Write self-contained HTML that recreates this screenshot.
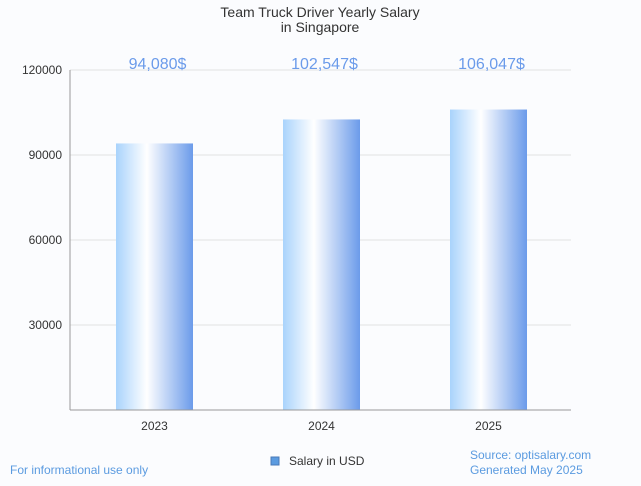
<!DOCTYPE html>
<html><head><meta charset="utf-8"><style>
body{margin:0;background:#fbfcfe;font-family:"Liberation Sans",sans-serif;}
svg text{font-family:"Liberation Sans",sans-serif;}
</style></head><body>
<svg width="641" height="481" viewBox="0 0 641 481">
<defs><linearGradient id="g" x1="0" x2="1" y1="0" y2="0">
<stop offset="0" stop-color="#a9d3fc"/><stop offset="0.4" stop-color="#ffffff"/><stop offset="1" stop-color="#6b9bea"/>
</linearGradient></defs>
<rect width="641" height="481" fill="#fbfcfe"/>
<text x="320" y="17" font-size="14" fill="#333" text-anchor="middle">Team Truck Driver Yearly Salary</text>
<text x="320" y="32" font-size="14" fill="#333" text-anchor="middle">in Singapore</text>
<g id="grid"></g><g id="bars"></g>
<line x1="70" y1="70" x2="70" y2="410" stroke="#999"/>
<line x1="70" y1="410" x2="571" y2="410" stroke="#999"/>
<rect x="271" y="457" width="8" height="8" fill="#5b9be0" stroke="#4a7ab8"/>
<text x="289" y="465" font-size="12" fill="#333">Salary in USD</text>
<text x="10" y="474" font-size="12" fill="#5b9be0">For informational use only</text>
<text x="470" y="459" font-size="12" fill="#5b9be0">Source: optisalary.com</text>
<text x="470" y="474" font-size="12" fill="#5b9be0">Generated May 2025</text>
</svg>
<script>
const categories=["2023","2024","2025"];
const values=[94080,102547,106047];
const valueLabels=["94,080$","102,547$","106,047$"];
const yTicks=[30000,60000,90000,120000];
const NS="http://www.w3.org/2000/svg";
const x0=70,x1=571,yTop=70,yBot=410,yMax=120000;
const y=v=>yBot-(v/yMax)*(yBot-yTop);
const band=(x1-x0)/categories.length;
const xc=i=>x0+1+band*(i+0.5);
function mk(t,a,p){const e=document.createElementNS(NS,t);for(const k in a)e.setAttribute(k,a[k]);p.appendChild(e);return e;}
const grid=document.getElementById('grid'),bars=document.getElementById('bars');
yTicks.forEach(t=>{
 const l=mk('line',{x1:x0,x2:x1,y1:y(t),y2:y(t),stroke:'#e2e2e2'},grid);
 
 
 const tx=mk('text',{x:62,y:y(t)+4,'font-size':12,fill:'#333','text-anchor':'end'},grid);
 tx.textContent=t;
 
 
});
categories.forEach((c,i)=>{
 const w=77;
 const r=mk('rect',{x:xc(i)-w/2,y:y(values[i]),width:w,height:yBot-y(values[i]),fill:'url(#g)'},bars);
 
 
 const t=mk('text',{x:xc(i),y:430,'font-size':12,fill:'#333','text-anchor':'middle'},bars);
 t.textContent=c;
 
 
 const v=mk('text',{x:xc(i)+3,y:69,'font-size':16,fill:'#6b9bea','text-anchor':'middle'},bars);
 v.textContent=valueLabels[i];
 
 
});
</script>
</body></html>
